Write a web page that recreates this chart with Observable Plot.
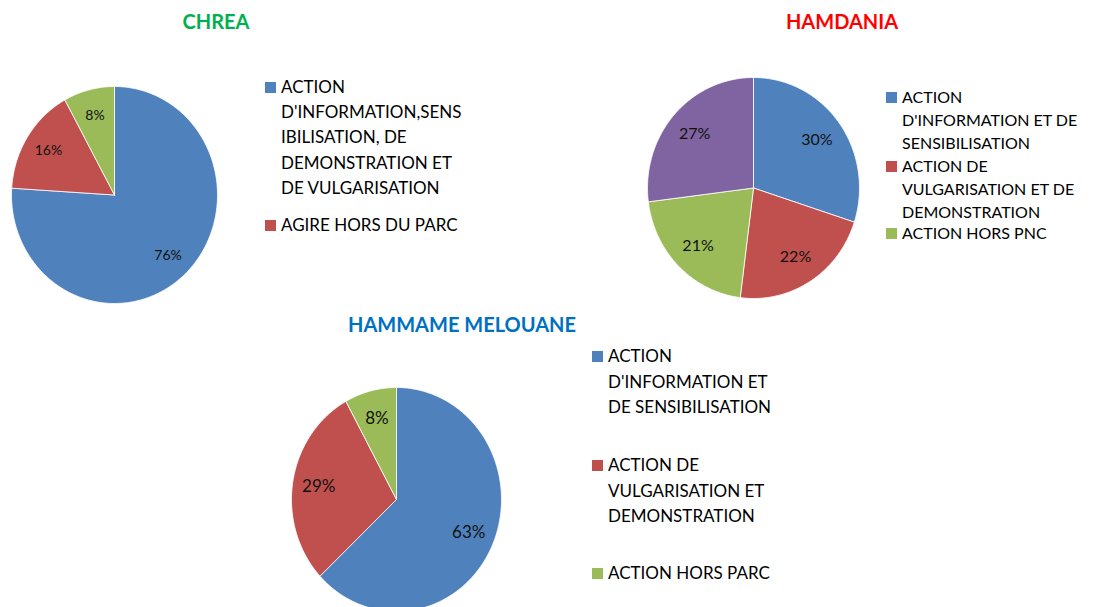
<!DOCTYPE html>
<html>
<head>
<meta charset="utf-8">
<script src="https://cdn.jsdelivr.net/npm/d3@7"></script>
<script src="https://cdn.jsdelivr.net/npm/@observablehq/plot@0.6"></script>
<style>
  html, body { margin: 0; padding: 0; background: #fff; }
  body { width: 1094px; height: 607px; position: relative; overflow: hidden; font-family: Lato, "Open Sans", sans-serif; }
  .pie { position: absolute; }
  #overlay { position: absolute; left: 0; top: 0; }
</style>
</head>
<body>
<div id="root"></div>
<script>
// ---- data ----
const colors = ["#4F81BD", "#C0504D", "#9BBB59", "#8064A2"];

const chreaTitle = "CHREA";
const chreaValues = [76, 16, 8];
const chreaLabels = ["76%", "16%", "8%"];
const chreaLegend = [
  ["ACTION", "D'INFORMATION,SENS", "IBILISATION, DE", "DEMONSTRATION ET", "DE VULGARISATION"],
  ["AGIRE HORS DU PARC"]
];

const hamdaniaTitle = "HAMDANIA";
const hamdaniaValues = [30, 22, 21, 27];
const hamdaniaLabels = ["30%", "22%", "21%", "27%"];
const hamdaniaLegend = [
  ["ACTION", "D'INFORMATION ET DE", "SENSIBILISATION"],
  ["ACTION DE", "VULGARISATION ET DE", "DEMONSTRATION"],
  ["ACTION HORS PNC"]
];

const hammameTitle = "HAMMAME MELOUANE";
const hammameValues = [63, 29, 8];
const hammameLabels = ["63%", "29%", "8%"];
const hammameLegend = [
  ["ACTION", "D'INFORMATION ET", "DE SENSIBILISATION"],
  ["ACTION DE", "VULGARISATION ET", "DEMONSTRATION"],
  ["ACTION HORS PARC"]
];

// ---- layout ----
const charts = [
  { title: chreaTitle, titleColor: "#00B050", titleX: 216, titleY: 29,
    values: chreaValues, labels: chreaLabels, legend: chreaLegend,
    cx: 114, cy: 194.5, rx: 103, ry: 108.5, labelSize: 14, labelR: 0.76,
    legX: 265, legBase: [93, 231], legStep: 25.2, legSize: 17 },
  { title: hamdaniaTitle, titleColor: "#FF0000", titleX: 842, titleY: 29,
    values: hamdaniaValues, labels: hamdaniaLabels, legend: hamdaniaLegend,
    cx: 753, cy: 187.5, rx: 106, ry: 110.5, labelSize: 16, labelR: 0.74,
    legX: 886, legBase: [103, 172, 239], legStep: 23, legSize: 16 },
  { title: hammameTitle, titleColor: "#0070C0", titleX: 462, titleY: 332,
    values: hammameValues, labels: hammameLabels, legend: hammameLegend,
    cx: 396, cy: 499, rx: 105, ry: 112, labelSize: 17, labelR: 0.75,
    legX: 592, legBase: [362, 471, 579], legStep: 25.5, legSize: 17 }
];

const root = document.getElementById("root");
const pad = 2;

for (const c of charts) {
  const total = d3.sum(c.values);
  const pts = [];
  const lbl = [];
  let start = 0;
  c.values.forEach((v, i) => {
    const end = start + v / total * 2 * Math.PI;
    pts.push({ i, x: 0, y: 0 });
    const n = Math.max(2, Math.ceil((end - start) / (Math.PI / 180)));
    for (let k = 0; k <= n; k++) {
      const a = start + (end - start) * k / n;
      pts.push({ i, x: Math.sin(a), y: Math.cos(a) });
    }
    pts.push({ i, x: 0, y: 0 });
    const m = (start + end) / 2;
    lbl.push({ x: c.labelR * Math.sin(m), y: c.labelR * Math.cos(m), text: c.labels[i] });
    start = end;
  });

  const plot = Plot.plot({
    width: 2 * c.rx + 2 * pad,
    height: 2 * c.ry + 2 * pad,
    margin: pad,
    x: { domain: [-1, 1], axis: null },
    y: { domain: [-1, 1], axis: null },
    color: { type: "ordinal", domain: [0, 1, 2, 3], range: colors },
    style: { background: "transparent", overflow: "visible" },
    marks: [
      Plot.line(pts, { x: "x", y: "y", z: "i", fill: "i", stroke: "#ffffff", strokeWidth: 1, strokeOpacity: 0.8, curve: "linear" }),
      Plot.text(lbl, { x: "x", y: "y", text: "text", fontSize: c.labelSize, fill: "#111", fontFamily: "Lato, sans-serif" })
    ]
  });
  const div = document.createElement("div");
  div.className = "pie";
  div.style.left = (c.cx - c.rx - pad) + "px";
  div.style.top = (c.cy - c.ry - pad) + "px";
  div.appendChild(plot);
  root.appendChild(div);
}

// titles and legends
const svg = d3.select("body").append("svg")
  .attr("id", "overlay").attr("width", 1094).attr("height", 607)
  .style("font-family", "Lato, sans-serif");

for (const c of charts) {
  svg.append("text")
    .attr("x", c.titleX).attr("y", c.titleY)
    .attr("text-anchor", "middle")
    .attr("font-size", 20).attr("font-weight", "bold")
    .attr("fill", c.titleColor)
    .text(c.title);

  c.legend.forEach((lines, i) => {
    const b = c.legBase[i];
    svg.append("rect")
      .attr("x", c.legX).attr("y", b - 11)
      .attr("width", 11).attr("height", 11)
      .attr("fill", colors[i]);
    lines.forEach((ln, j) => {
      svg.append("text")
        .attr("x", c.legX + 16).attr("y", b + j * c.legStep)
        .attr("font-size", c.legSize)
        .attr("fill", "#000")
        .text(ln);
    });
  });
}
</script>
</body>
</html>
